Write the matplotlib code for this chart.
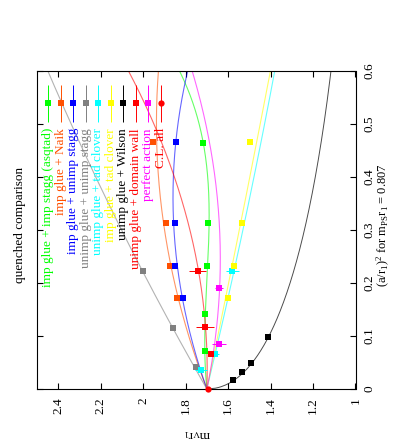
import numpy as np
import matplotlib
matplotlib.use('Agg')
import matplotlib.pyplot as plt
from matplotlib.transforms import blended_transform_factory

plt.rcParams['font.family'] = ['Liberation Serif', 'DejaVu Serif']
plt.rcParams['mathtext.fontset'] = 'custom'
plt.rcParams['mathtext.rm'] = 'Liberation Serif'
plt.rcParams['mathtext.it'] = 'Liberation Serif:italic'
plt.rcParams['font.size'] = 9.5

# data: (a/r1)^2 and m_V r1 for each action
green_a2 = [0.072, 0.141, 0.232, 0.313, 0.464]
green_m = [1.708, 1.711, 1.700, 1.696, 1.717]
orange_a2 = [0.172, 0.232, 0.313, 0.466]
orange_m = [1.841, 1.874, 1.893, 1.955]
blue_a2 = [0.172, 0.232, 0.313, 0.466]
blue_m = [1.814, 1.849, 1.849, 1.845]
gray_a2 = [0.041, 0.115, 0.222]
gray_m = [1.751, 1.861, 2.003]
cyan_a2 = [0.036, 0.066, 0.223]
cyan_m = [1.727, 1.661, 1.580]
cyan_err = [0.028, 0.020, 0.030]
yellow_a2 = [0.172, 0.232, 0.313, 0.466]
yellow_m = [1.600, 1.573, 1.533, 1.499]
black_a2 = [0.017, 0.0326, 0.0495, 0.0985]
black_m = [1.578, 1.535, 1.494, 1.412]
red_a2 = [0.066, 0.116, 0.223]
red_m = [1.680, 1.708, 1.744]
red_err = [0.012, 0.042, 0.040]
magenta_a2 = [0.085, 0.191]
magenta_m = [1.643, 1.644]
magenta_err = [0.035, 0.020]
cl_a2 = [0.0]
cl_m = [1.697]

# fit coefficients (constant, linear, quadratic, ...) in (a/r1)^2,
# the Wilson fit is in a/r1
green_fit = [1.70, 0.2526, -1.846, 2.977]
orange_fit = [1.70, 0.95, -0.95]
blue_fit = [1.70, 0.883, -1.222]
gray_fit = [1.70, 1.432, -0.304]
cyan_fit = [1.70, -0.60, 0.111]
yellow_fit = [1.70, -0.52, 0.034]
black_fit = [1.70, -1.043, 0.372]
red_fit = [1.70, -0.083, 1.167]
magenta_fit = [1.70, -0.517, 1.056]

labels = ['imp glue + imp stagg (asqtad)', 'imp glue + Naik', 'imp glue + unimp stagg',
          'unimp glue + unimp stagg', 'unimp glue + tad clover', 'imp glue + tad clover',
          'unimp glue + Wilson', 'unimp glue + domain wall', 'perfect action', 'C.L. all']
colores = ['#00ff00', '#ff5000', '#0000ff', '#808080', '#00ffff', '#ffff00',
           '#000000', '#ff0000', '#ff00ff', '#ff0000']


def evaluar(coefs, x):
    return sum(c * x ** i for i, c in enumerate(coefs))


fig = plt.figure(figsize=(3.93, 4.45), dpi=100)
ax = fig.add_axes([37 / 393, 1 - 389 / 445, 318.5 / 393, 318.5 / 445])

# curvas de ajuste
a2 = np.linspace(0, 0.6, 400)
ajustes = [green_fit, orange_fit, blue_fit, gray_fit, cyan_fit, yellow_fit, None, red_fit, magenta_fit]
for coefs, col in zip(ajustes, colores):
    if coefs is None:
        ax.plot(evaluar(black_fit, np.sqrt(a2)), a2, color='#000000', lw=0.7, alpha=0.7)
        continue
    ax.plot(evaluar(coefs, a2), a2, color=col, lw=0.8, alpha=0.6)

# puntos
series = [(green_a2, green_m, None), (orange_a2, orange_m, None), (blue_a2, blue_m, None),
          (gray_a2, gray_m, None), (cyan_a2, cyan_m, cyan_err), (yellow_a2, yellow_m, None),
          (black_a2, black_m, None), (red_a2, red_m, red_err), (magenta_a2, magenta_m, magenta_err)]
for (y, x, err), col in zip(series, colores):
    ax.errorbar(x, y, xerr=err, fmt='s', color=col, ms=4.5, mew=0,
                elinewidth=0.7, capsize=2, capthick=0.7, ecolor=col, alpha=1)
ax.plot(cl_m, cl_a2, 'o', color='#ff0000', ms=4.5, mew=0, clip_on=False, zorder=5)

# leyenda manual
trans = blended_transform_factory(ax.transAxes, ax.transData)
for i, (lab, col) in enumerate(zip(labels, colores)):
    xl = 0.0355 + 0.03925 * i
    mk = 'o' if i == len(labels) - 1 else 's'
    ax.errorbar([xl], [0.538], yerr=[0.035], fmt=mk, color=col, ms=4.5, mew=0,
                elinewidth=0.7, capsize=2, capthick=0.7, transform=trans, alpha=1)
    ax.text(xl, 0.4915, lab, color=col, rotation=90, ha='center', va='top', transform=trans)

ax.set_xlim(2.5, 1.0)
ax.set_ylim(0, 0.6)
ax.set_xticks([2.4, 2.2, 2.0, 1.8, 1.6, 1.4, 1.2, 1.0])
ax.set_xticklabels(['2.4', '2.2', '2', '1.8', '1.6', '1.4', '1.2', '1'])
ax.set_yticks([0, 0.1, 0.2, 0.3, 0.4, 0.5, 0.6])
ax.set_yticklabels(['0', '0.1', '0.2', '0.3', '0.4', '0.5', '0.6'])
ax.tick_params(direction='in', length=4, width=0.8, top=True, left=True, right=True,
               labelleft=False, labelright=True)
ax.tick_params(axis='x', labelrotation=90, pad=6)
ax.tick_params(axis='y', labelrotation=90, pad=6)
for t in ax.get_yticklabels():
    t.set_va('center')
for s in ax.spines.values():
    s.set_linewidth(0.8)

fig.text(20 / 393, 1 - 225 / 445, 'quenched comparison', rotation=90, ha='center', va='center')
fig.text(383 / 393, 1 - 225 / 445, r'$\mathrm{(a/r_1)^2}$ for $\mathrm{m_{PS}r_1}$ = 0.807',
         rotation=90, ha='center', va='center', fontsize=9)
fig.text(197 / 393, 1 - 433 / 445, r'$\mathrm{m_V r_1}$', rotation=180, ha='center', va='center')

fig.savefig('out.png', dpi=100)
